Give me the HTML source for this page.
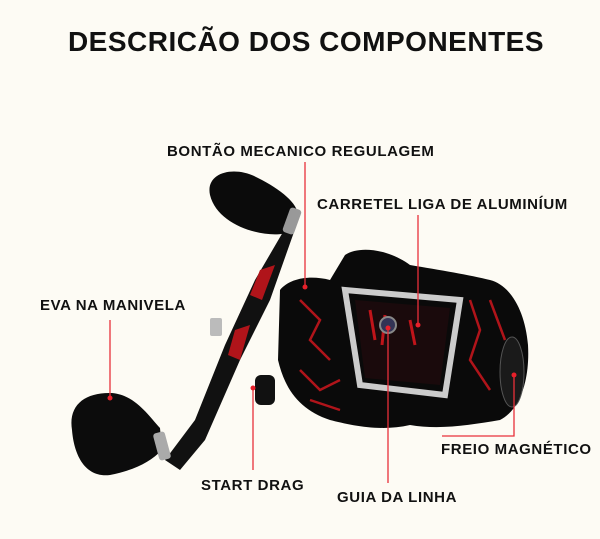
<!DOCTYPE html>
<html><head><style>
body{margin:0;width:600px;height:539px;background:#fdfbf4;overflow:hidden;font-family:"Liberation Sans",Arial,sans-serif}
svg{position:absolute;left:0;top:0}
</style></head><body>
<svg width="600" height="539" viewBox="0 0 600 539">
<rect width="600" height="539" fill="#fdfbf4"/>
<text x="306" y="51" text-anchor="middle" font-size="28" font-weight="bold" letter-spacing="0.5" fill="#111">DESCRICÃO DOS COMPONENTES</text>
<!-- crank arm -->
<path d="M290,220 L300,215 L270,300 L240,360 L205,440 L180,470 L165,460 L195,420 L225,345 L255,280 Z" fill="#111"/>
<path d="M260,270 L275,265 L262,300 L250,295 Z M235,330 L250,325 L240,360 L228,355 Z" fill="#b0141a"/>
<!-- top knob -->
<path d="M210,195 C205,172 235,165 258,178 C282,190 300,205 298,218 L290,232 C270,240 218,228 210,195 Z" fill="#0b0b0b"/>
<rect x="286" y="208" width="12" height="26" rx="3" fill="#999" transform="rotate(20 292 221)"/>
<!-- bottom knob -->
<path d="M72,430 C68,405 85,392 112,393 C135,395 148,415 160,428 L162,450 C150,462 135,470 110,475 C85,478 74,455 72,430 Z" fill="#0c0c0c"/>
<rect x="156" y="432" width="12" height="28" rx="3" fill="#aaa" transform="rotate(-15 162 446)"/>
<!-- body -->
<path d="M280,290 C290,278 310,275 330,280 L345,255 C360,245 390,250 410,265 C440,270 470,275 490,280 C510,285 525,310 528,345 C530,380 520,410 500,420 C470,425 440,430 410,425 C380,432 350,425 330,420 C300,410 285,390 278,360 Z" fill="#0a0a0a"/>
<path d="M300,300 L320,320 L310,340 L330,360 M300,370 L320,390 L340,380 M470,300 L480,330 L470,360 L490,390 M490,300 L505,340 M310,400 L340,410" stroke="#b0141a" stroke-width="2.5" fill="none"/>
<path d="M345,290 L460,300 L445,395 L360,385 Z" fill="none" stroke="#ccc" stroke-width="6"/>
<path d="M355,300 L450,308 L440,385 L365,378 Z" fill="#1a0a0c"/>
<path d="M370,310 L375,340 M385,315 L382,345 M410,320 L415,345" stroke="#c0141a" stroke-width="3"/>
<circle cx="388" cy="325" r="8" fill="#335" stroke="#888" stroke-width="2"/>
<rect x="255" y="375" width="20" height="30" rx="6" fill="#111"/>
<ellipse cx="512" cy="372" rx="12" ry="35" fill="#1a1a1a" stroke="#555"/>
<rect x="210" y="318" width="12" height="18" rx="2" fill="#bbb"/>
<!-- connectors -->
<g stroke="#e8303a" stroke-width="1.3" fill="none">
<line x1="110" y1="320" x2="110" y2="398"/>
<line x1="305" y1="162" x2="305" y2="287"/>
<line x1="418" y1="215" x2="418" y2="325"/>
<line x1="388" y1="328" x2="388" y2="483"/>
<line x1="253" y1="388" x2="253" y2="470"/>
<polyline points="514,375 514,436 442,436"/>
</g>
<g fill="#e8202a">
<circle cx="110" cy="398" r="2.5"/><circle cx="305" cy="287" r="2.5"/><circle cx="418" cy="325" r="2.5"/>
<circle cx="388" cy="328" r="2.5"/><circle cx="253" cy="388" r="2.5"/><circle cx="514" cy="375" r="2.5"/>
</g>
<g font-size="15" font-weight="bold" letter-spacing="0.6" fill="#111">
<text x="167" y="156">BONTÃO MECANICO REGULAGEM</text>
<text x="317" y="209">CARRETEL LIGA DE ALUMINÍUM</text>
<text x="40" y="310">EVA NA MANIVELA</text>
<text x="441" y="454">FREIO MAGNÉTICO</text>
<text x="201" y="490">START DRAG</text>
<text x="337" y="502">GUIA DA LINHA</text>
</g>
</svg>
</body></html>
